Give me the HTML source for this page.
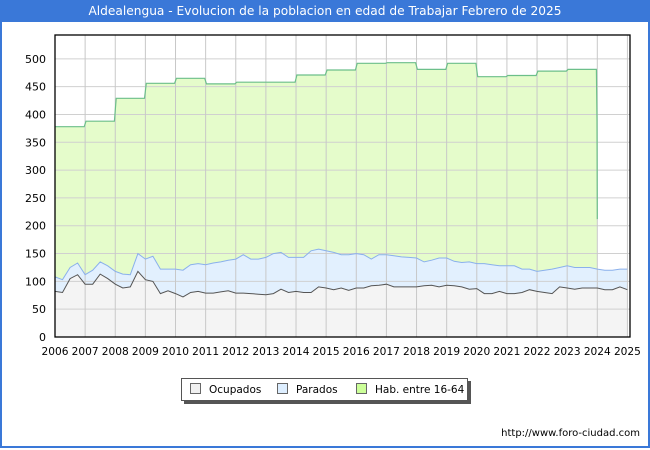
<!DOCTYPE html>
<html><head><meta charset="utf-8"><style>
body{margin:0;width:650px;height:450px;overflow:hidden;background:#fff;font-family:"DejaVu Sans","Liberation Sans",sans-serif}
#frame{position:absolute;left:0;top:0;width:646px;height:446px;border:2px solid #3a78d8;border-top:none}
#title{position:absolute;left:0;top:0;width:650px;height:22px;background:#3a78d8;color:#fff;font-size:12.2px;line-height:22px;text-align:center}
#legend{position:absolute;left:181px;top:378px;width:285px;height:21px;border:1px solid #555;background:#fff;box-shadow:3px 3px 0 #555;font-size:10.5px}
.li{position:absolute;top:4px;white-space:nowrap}
.sw{display:inline-block;width:9px;height:9px;border:1px solid #666;margin-right:8px;vertical-align:-1px}
#url{position:absolute;right:10px;top:428px;font-size:10px}
</style></head><body>
<div id="frame"></div>
<div id="title">Aldealengua - Evolucion de la poblacion en edad de Trabajar Febrero de 2025</div>
<svg id="chart" width="650" height="450" style="position:absolute;left:0;top:0;font-family:'DejaVu Sans','Liberation Sans',sans-serif"></svg>
<div id="legend">
<span class="li" style="left:8px"><span class="sw" style="background:#f0f0f0"></span>Ocupados</span>
<span class="li" style="left:95px"><span class="sw" style="background:#ddeeff"></span>Parados</span>
<span class="li" style="left:174px"><span class="sw" style="background:#ccff99"></span>Hab. entre 16-64</span>
</div>
<div id="url">http://www.foro-ciudad.com</div>
<script>
const years=[2006,2007,2008,2009,2010,2011,2012,2013,2014,2015,2016,2017,2018,2019,2020,2021,2022,2023,2024,2025];
const yTicks=[0,50,100,150,200,250,300,350,400,450,500];
const habYearly=[378,388,429,456,465,455,458,458,471,480,492,493,481,492,468,470,478,481];
const habEnd=[390,212];
const ocupados=[82,80,105,112,95,95,113,105,95,88,90,118,103,100,78,83,78,72,80,82,79,79,81,83,79,79,78,77,76,78,86,80,82,80,80,90,88,85,88,84,88,88,92,93,95,90,90,90,90,92,93,90,93,92,90,86,87,78,78,82,78,78,80,85,82,80,78,90,88,86,88,88,88,85,85,90,85];
const total=[108,103,125,133,112,120,135,128,118,113,112,150,140,145,122,122,122,120,130,132,130,133,135,138,140,148,140,140,143,150,152,143,143,143,155,158,155,152,148,148,150,148,140,148,148,146,144,143,142,135,138,142,142,136,134,135,132,132,130,128,128,128,122,122,118,120,122,125,128,125,125,125,122,120,120,122,122];

const L=55,R=630,T=35,B=337;
const X=t=>L+(t-2006)*(597.3-55)/18;
const Y=v=>B-v*0.5563;
const svg=document.getElementById('chart');
const NS='http://www.w3.org/2000/svg';
function mk(tag,attrs){const e=document.createElementNS(NS,tag);for(const k in attrs)e.setAttribute(k,attrs[k]);svg.appendChild(e);return e;}

let r=mk('rect',{x:L,y:T,width:R-L,height:B-T,fill:'#fff'});



let hp=[];
habYearly.forEach((v,i)=>{const y0=2006+i;hp.push([X(y0+(i?0.03:0)),Y(v)]);hp.push([X(y0+0.97),Y(v)]);});
hp.push([X(2023.99),Y(habEnd[0])]);hp.push([X(2024.0),Y(habEnd[1])]);
const habLine=hp.map((p,i)=>(i?'L':'M')+p[0].toFixed(1)+','+p[1].toFixed(1)).join('');
let ha=mk('path',{d:habLine+`L${X(2024).toFixed(1)},${B}L${L},${B}Z`,fill:'#e5fccb'});



const tx=i=>X(2006+i*0.25);
const totLine=total.map((v,i)=>(i?'L':'M')+tx(i).toFixed(1)+','+Y(v).toFixed(1)).join('');
const ocLine=ocupados.map((v,i)=>(i?'L':'M')+tx(i).toFixed(1)+','+Y(v).toFixed(1)).join('');
const lastX=tx(total.length-1).toFixed(1);
let pa=mk('path',{d:totLine+`L${lastX},${B}L${L},${B}Z`,fill:'#e2f0fe'});


let oa=mk('path',{d:ocLine+`L${lastX},${B}L${L},${B}Z`,fill:'#f4f4f4'});



yTicks.forEach(v=>{
 let g=mk('line',{x1:L,x2:R,y1:Y(v),y2:Y(v),stroke:'#d0d0d0','stroke-width':1});
 
 
 let t=mk('text',{x:46,y:Y(v)+4,'text-anchor':'end','font-size':11,fill:'#000'});
 t.textContent=v;
 
 
});
years.forEach(yr=>{
 let g=mk('line',{x1:X(yr),x2:X(yr),y1:T,y2:B,stroke:'#c8c8c8','stroke-width':1});
 
 
 let t=mk('text',{x:X(yr),y:355,'text-anchor':'middle','font-size':10.6,fill:'#000'});
 t.textContent=yr;
 
 
});

let hl=mk('path',{d:habLine,fill:'none',stroke:'#6cbf8a','stroke-width':1.2});


let pl=mk('path',{d:totLine,fill:'none',stroke:'#8ab0ec','stroke-width':1});


let ol=mk('path',{d:ocLine,fill:'none',stroke:'#555','stroke-width':1});



let bd=mk('rect',{x:L,y:T,width:R-L,height:B-T,fill:'none',stroke:'#000','stroke-width':1.3});


</script>
</body></html>
